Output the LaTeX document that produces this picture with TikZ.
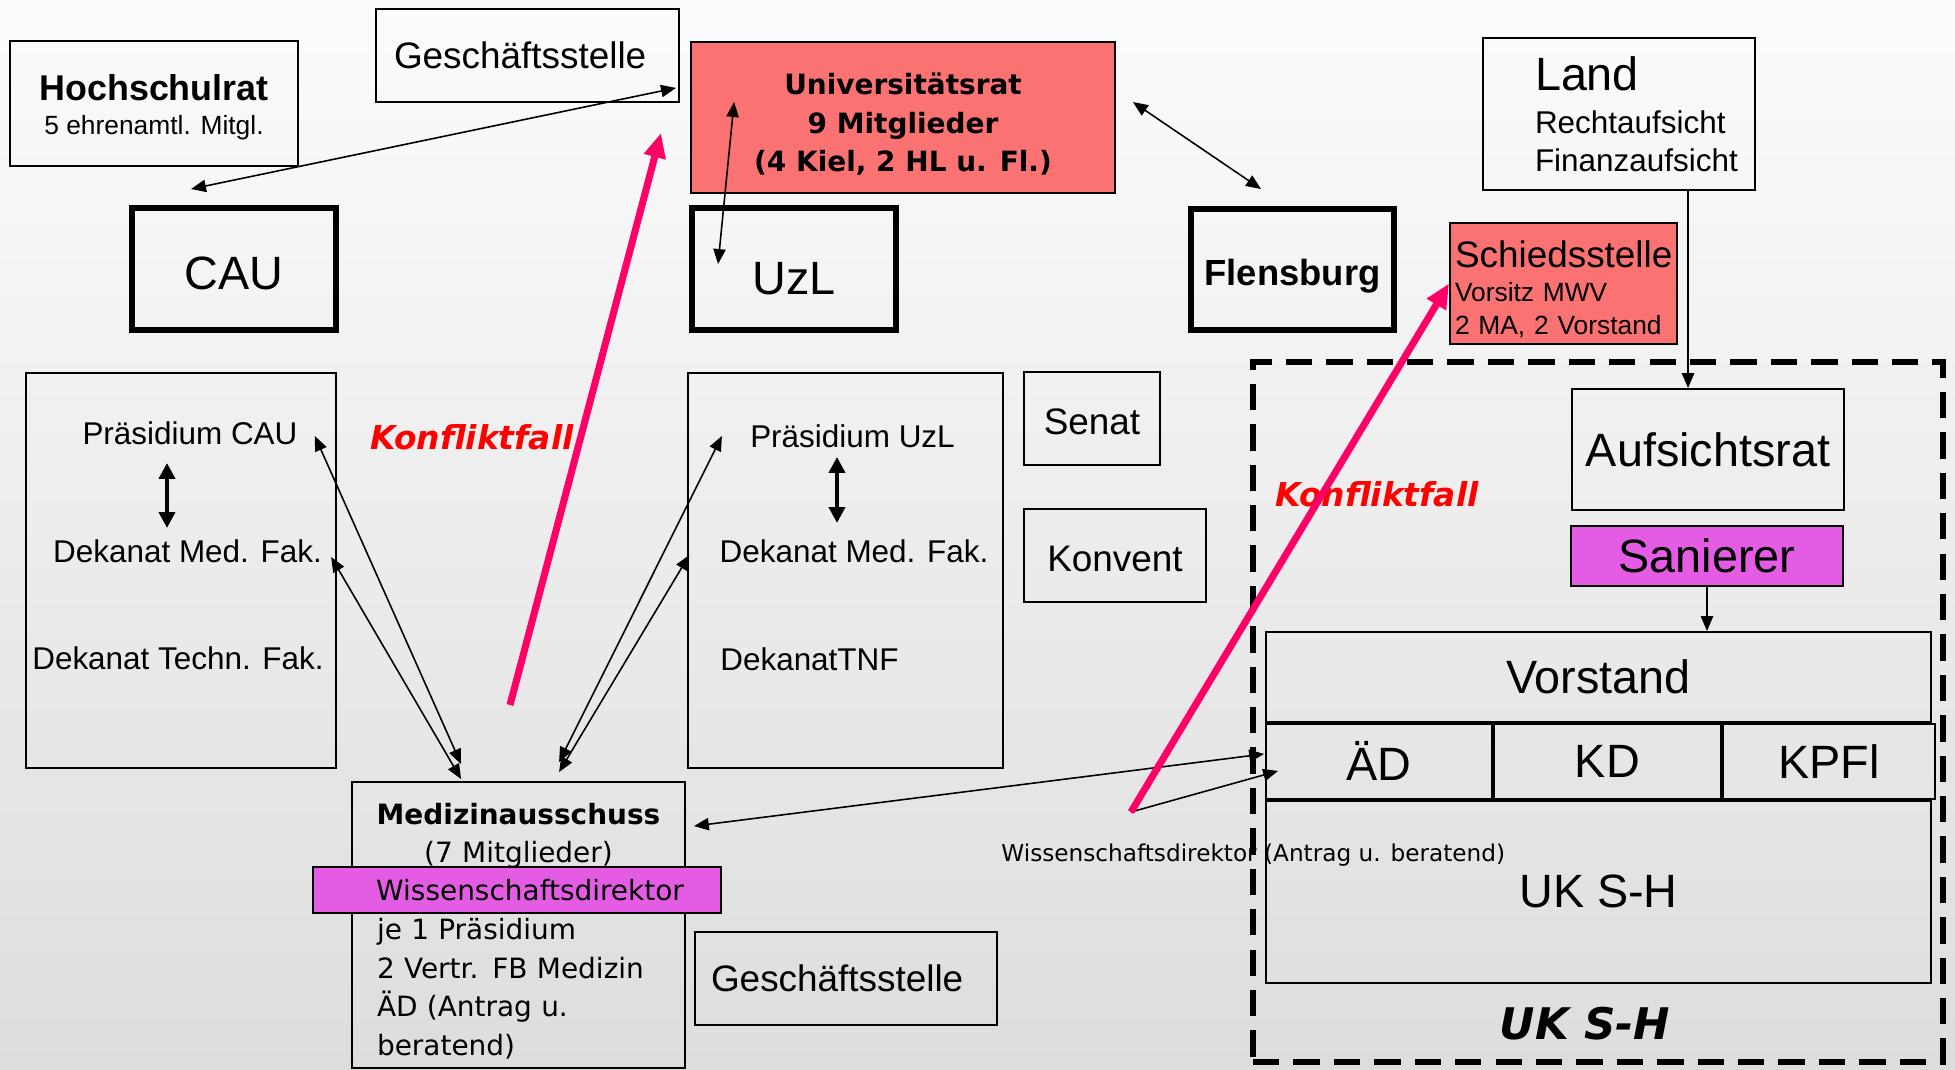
\documentclass[tikz,border=0pt]{standalone}
\usepackage{fontspec}
\setmainfont{Liberation Sans}
\newfontfamily\tahoma{DejaVu Sans}
\usetikzlibrary{arrows.meta,calc,positioning}

\definecolor{bgtop}{RGB}{252,252,252}
\definecolor{bgbot}{RGB}{221,221,221}
\definecolor{ratred}{RGB}{250,114,114}
\definecolor{boxpink}{RGB}{228,92,228}
\definecolor{linepink}{RGB}{255,0,102}
\definecolor{konfred}{RGB}{255,0,0}

\tikzset{
  box/.style={draw, line width=1.1pt, inner sep=0pt, align=center},
  thickbox/.style={draw, line width=3.4pt, inner sep=0pt, minimum width=4.08cm, minimum height=2.44cm},
  big/.style={font=\fontsize{26.6}{30}\selectfont},
  mid/.style={font=\fontsize{21}{25}\selectfont},
  txt/.style={inner sep=0pt, anchor=base, font=\fontsize{17.9}{21.5}\selectfont},
  conn/.style={line width=0.9pt, <->},
  oneway/.style={line width=0.9pt, ->},
  bigconn/.style={line width=2.6pt, {Triangle[length=9pt,width=9pt]}-{Triangle[length=9pt,width=9pt]}},
  konflikt/.style={line width=4pt, draw=linepink, -{Triangle[length=14pt,width=12pt]}},
  konftxt/.style={inner sep=0pt, anchor=base west, text=konfred, font=\tahoma\bfseries\itshape\fontsize{18.7}{22}\selectfont},
}

\begin{document}
\begin{tikzpicture}[x=0.02cm, y=-0.02cm, >={Triangle[length=8.5pt,width=7pt]}]
\shade[top color=bgtop, bottom color=bgbot] (0,0) rectangle (1955,1070);
\useasboundingbox (0,0) rectangle (1955,1070);

% Gremien oben
\node[box, minimum width=5.76cm, minimum height=2.5cm, font=\fontsize{15}{19.8}\selectfont] (hsr) at (154,103.5)
  {\rule{0pt}{19pt}{\bfseries\fontsize{20.4}{24}\selectfont Hochschulrat}\\5 ehrenamtl. Mitgl.};
\node[box, mid, minimum width=6.06cm, minimum height=1.86cm, text width=5.34cm, align=left] (gst) at (527.5,55.5) {Geschäftsstelle};
\node[box, fill=ratred, minimum width=8.48cm, minimum height=3.02cm, font=\tahoma\bfseries\fontsize{15.9}{21.8}\selectfont] (urat) at (903,117.5)
  {\rule{0pt}{20pt}Universitätsrat\\9 Mitglieder\\(4 Kiel, 2 HL u. Fl.)};
\node[box, text width=5.44cm, minimum height=3.04cm, align=left, font=\fontsize{17.9}{21.5}\selectfont] (land) at (1619,114)
  {\hspace*{1.04cm}{\fontsize{26.6}{30}\selectfont Land}\\[2.8pt]\hspace*{1.04cm}Rechtaufsicht\\\hspace*{1.04cm}Finanzaufsicht};

% Hochschulen
\node[thickbox, big, text height=23.8pt, text depth=0pt] (cau) at (234,269) {CAU};
\node[thickbox, big, text height=29.5pt, text depth=0pt] (uzl) at (794,269) {UzL};
\node[thickbox, minimum width=4.06cm, minimum height=2.42cm, text height=23.2pt, text depth=4.5pt, font=\bfseries\fontsize{20.7}{25}\selectfont] (flb) at (1292.5,269.5) {Flensburg};
\node[box, fill=ratred, text width=4.34cm, minimum width=4.54cm, minimum height=2.42cm, align=left, font=\fontsize{15}{19}\selectfont] (schied) at (1563.5,283.5)
  {\rule{0pt}{22pt}{\fontsize{21}{25}\selectfont Schiedsstelle}\\Vorsitz MWV\\2 MA, 2 Vorstand};

% Kiel
\node[box, minimum width=6.2cm, minimum height=7.9cm] (caubox) at (181,570.5) {};
\node[txt] (pcau) at (190,445) {Präsidium CAU};
\node[txt] (dmcau) at (187.5,563) {Dekanat Med. Fak.};
\node[txt] (dtcau) at (178,670) {Dekanat Techn. Fak.};

% Luebeck
\node[box, minimum width=6.3cm, minimum height=7.9cm] (uzlbox) at (845.5,570.5) {};
\node[txt] (puzl) at (852.5,448) {Präsidium UzL};
\node[txt] (dmuzl) at (854,563) {Dekanat Med. Fak.};
\node[txt, anchor=base west] (dtnf) at (720,671) {DekanatTNF};

\node[box, mid, minimum width=2.72cm, minimum height=1.86cm, text height=18.7pt, text depth=0pt] (senat) at (1092,418.5) {Senat};
\node[box, mid, minimum width=3.64cm, minimum height=1.86cm, text height=18.7pt, text depth=0pt] (konvent) at (1115,555.5) {Konvent};

% Klinikum
\node[draw, line width=3.4pt, dash pattern=on 15pt off 8pt, minimum width=13.8cm, minimum height=14cm, inner sep=0pt] (ukframe) at (1598,712) {};
\node[box, big, minimum width=5.44cm, minimum height=2.42cm] (aufs) at (1708,449.5) {Aufsichtsrat};
\node[box, big, fill=boxpink, minimum width=5.44cm, minimum height=1.2cm] (san) at (1707,556) {Sanierer};
\node[box, big, minimum width=13.3cm, minimum height=1.8cm] (vst) at (1598.5,677) {Vorstand};
\node[box, big, anchor=north west, minimum width=4.52cm, minimum height=1.5cm] (aed) at (vst.south west) {ÄD};
\node[box, big, anchor=west, minimum width=4.54cm, minimum height=1.5cm] (kd) at (aed.east) {KD};
\node[box, big, anchor=west, minimum width=4.24cm, minimum height=1.5cm] (kpfl) at (kd.east) {KPFl};
\node[box, big, anchor=north west, minimum width=13.3cm, minimum height=3.64cm] (ukbox) at (aed.south west) {UK S-H};
\node[inner sep=0pt, anchor=base, font=\tahoma\bfseries\itshape\fontsize{24.8}{28}\selectfont] (ukname) at (1585,1039) {UK S-H};

% Medizinausschuss
\node[box, minimum width=6.66cm, minimum height=5.72cm, text width=5.66cm, align=left, font=\tahoma\fontsize{15.9}{21.9}\selectfont] (ma) at (518.5,925)
  {\leavevmode\rule{0pt}{18.8pt}\hbox to\hsize{\hss\bfseries Medizinausschuss\hss}\\
   \leavevmode\hbox to\hsize{\hss(7 Mitglieder)\hss}\\
   \mbox{}\\
   je 1 Präsidium\\
   2 Vertr. FB Medizin\\
   ÄD (Antrag u.\\
   beratend)};
\node[box, fill=boxpink, minimum width=8.16cm, minimum height=0.92cm, font=\tahoma\fontsize{15.9}{19}\selectfont] (wd) at (517,890) {\hspace*{0.52cm}Wissenschaftsdirektor};
\node[box, mid, minimum width=6.04cm, minimum height=1.86cm, text width=5.4cm, align=left] (gsb) at (846,978.5) {Geschäftsstelle};
\node[inner sep=0pt, anchor=base west, font=\tahoma\fontsize{13.2}{16}\selectfont] (wdlab) at (1001,862) {Wissenschaftsdirektor (Antrag u. beratend)};

% Verbindungen
\draw[conn] ($(gst.south east)+(-4,-15)$) -- ($(cau.north west)+(62,-16)$);
\draw[conn] ($(urat.north west)+(44,61)$) -- ($(uzl.north west)+(29,59)$);
\draw[conn] ($(urat.north east)+(17,61)$) -- ($(flb.north west)+(73,-17)$);
\coordinate (landout) at ($(land.south west)+(206,0)$);
\draw[oneway] (landout) -- (landout |- aufs.north);
\draw[oneway] (san.south) -- (san.south |- vst.north);

\draw[bigconn] ($(pcau.base)+(-23,18)$) -- ($(dmcau.base)+(-20.5,-35)$);
\draw[bigconn] ($(puzl.base)+(-15.5,9)$) -- ($(dmuzl.base)+(-17,-40)$);

\draw[conn] ($(pcau.base east)+(17,-9)$) -- ($(ma.north west)+(110,-17)$);
\draw[conn] ($(dmcau.base east)+(9,-6)$) -- ($(ma.north west)+(110,-2)$);
\draw[conn] ($(puzl.base west)+(-28,-12)$) -- ($(ma.north west)+(208,-19)$);
\draw[conn] ($(dmuzl.base west)+(-30,-8)$) -- ($(ma.north west)+(208,-9)$);
\draw[conn] ($(ma.north east)+(8,45)$) -- ($(aed.north west)+(-1,31)$);

% Konfliktfall
\node[konftxt] (kfl) at (370,450) {Konfliktfall};
\node[konftxt] (kfr) at (1275,507) {Konfliktfall};
\coordinate (kfa) at (510,705);
\coordinate (kfatip) at (661,133);
\coordinate (kfb) at (1131,812);
\draw[oneway] (kfb) -- ($(aed.north west)+(13,48)$);
\draw[konflikt] (kfa) -- (kfatip);
\draw[konflikt] (kfb) -- (schied.west);
\end{tikzpicture}
\end{document}
